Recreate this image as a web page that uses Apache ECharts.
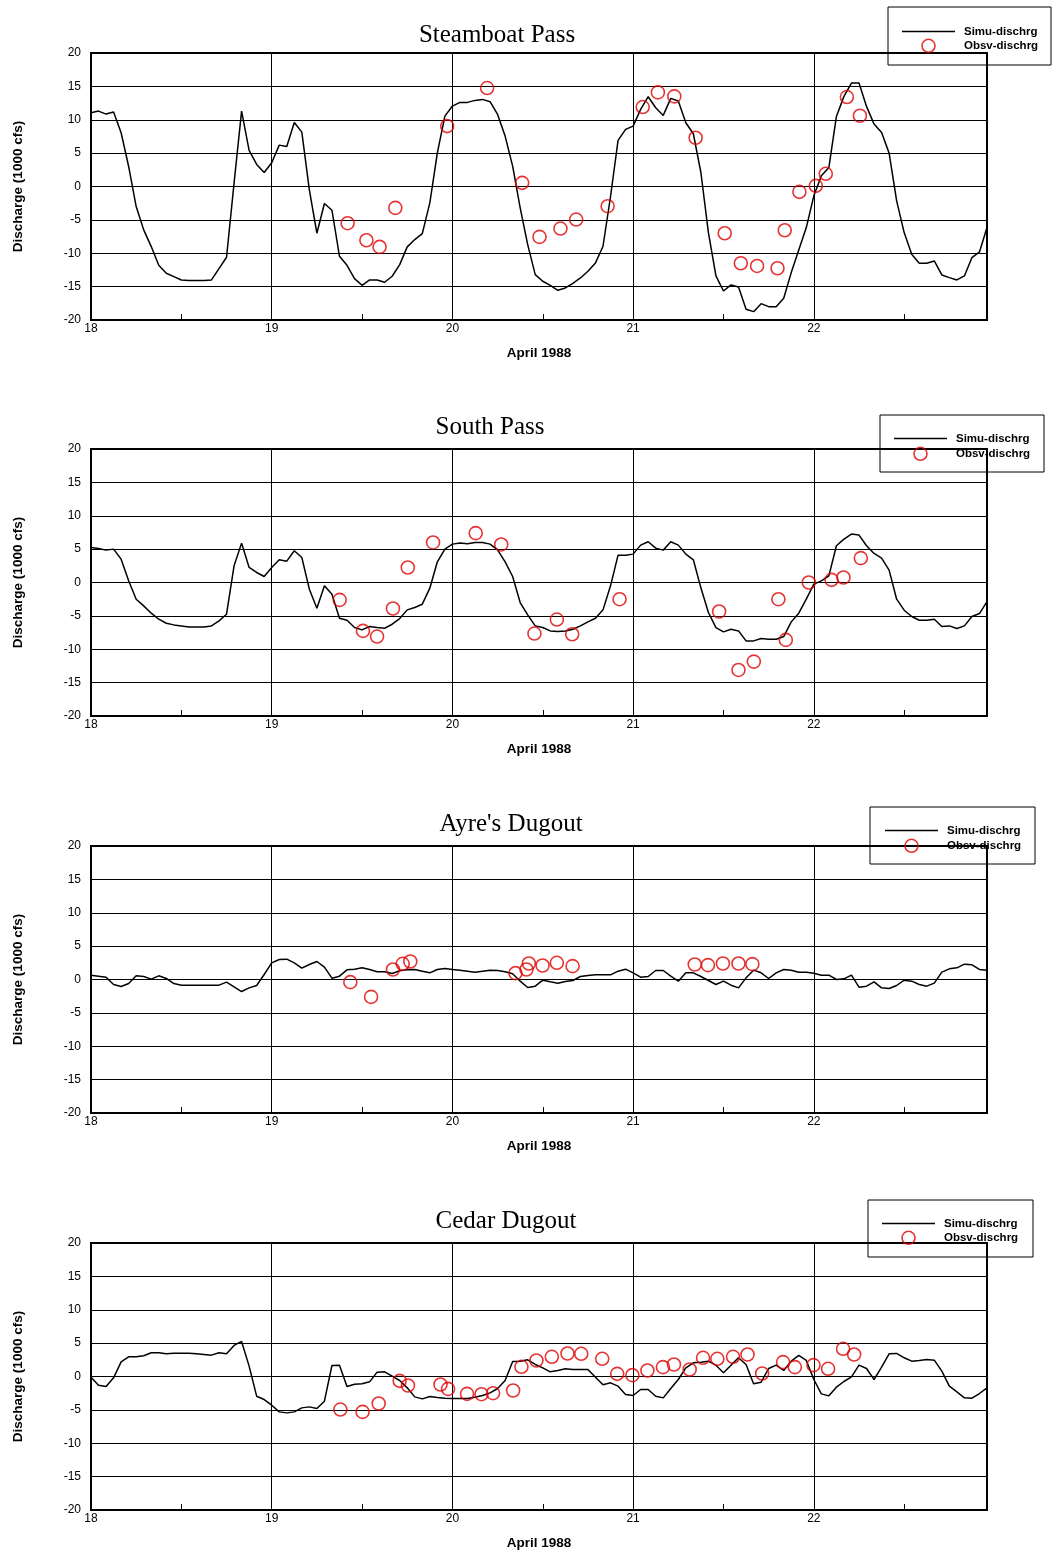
<!DOCTYPE html>
<html>
<head>
<meta charset="utf-8">
<script src="https://cdn.jsdelivr.net/npm/echarts@6/dist/echarts.min.js"></script>
<style>
html,body{margin:0;padding:0;background:#fff;}
#c{width:1052px;height:1553px;}
</style>
</head>
<body>
<div id="c"></div>
<script>
// ---- DATA ----
const startDay = 18;          // April 18, hour 0
const hoursPerDay = 24;
const titles = ["Steamboat Pass", "South Pass", "Ayre's Dugout", "Cedar Dugout"];
const simuName = 'Simu-dischrg';
const obsvName = 'Obsv-dischrg';

// Simulated discharge (1000 cfs), hourly from 18.0
const simu1 = [11.05, 11.3, 10.85, 11.15, 8.05, 3, -3, -6.5, -9, -11.8,
  -13, -13.5, -14, -14.1, -14.1, -14.1, -14, -12.3, -10.6, 0.5,
  11.3, 5.4, 3.3, 2.1, 3.55, 6.2, 6.0, 9.6, 8.15, -0.5,
  -7.0, -2.55, -3.55, -10.45, -11.8, -13.8, -14.8, -14.0, -14.0, -14.35,
  -13.45, -11.7, -9.05, -7.95, -7.05, -2.45, 5.05, 10.55, 12.05, 12.6,
  12.6, 12.9, 13.05, 12.7, 10.8, 7.55, 3.05, -3.2, -8.7, -13.2,
  -14.2, -14.8, -15.55, -15.2, -14.5, -13.7, -12.7, -11.45, -8.95, -1.5,
  6.9, 8.55, 9.05, 11.55, 13.45, 11.8, 10.65, 13.2, 12.8, 9.55,
  7.9, 2.1, -6.9, -13.4, -15.65, -14.75, -15.05, -18.4, -18.75, -17.55,
  -18.0, -18.0, -16.75, -12.9, -9.5, -6.15, -1.4, 1.6, 2.85, 10.5,
  13.5, 15.5, 15.5, 12.0, 9.35, 8.1, 5.0, -2.15, -6.9, -10.15,
  -11.5, -11.5, -11.15, -13.25, -13.65, -14.0, -13.4, -10.65, -9.8, -6.15];
const simu2 = [5.25, 5.1, 4.85, 5.0, 3.5, 0.25, -2.5, -3.5, -4.6, -5.5,
  -6.1, -6.35, -6.5, -6.65, -6.65, -6.65, -6.5, -5.75, -4.75, 2.5,
  5.9, 2.25, 1.5, 0.9, 2.25, 3.4, 3.2, 4.75, 3.75, -1.0,
  -3.85, -0.5, -1.75, -5.35, -5.65, -6.75, -7.1, -6.6, -6.75, -6.85,
  -6.25, -5.4, -4.1, -3.75, -3.25, -0.85, 3.1, 5.0, 5.75, 5.9,
  5.8, 6.0, 6.0, 5.75, 4.9, 3.1, 0.9, -3.0, -4.85, -6.5,
  -6.75, -7.25, -7.35, -7.25, -7.0, -6.5, -5.9, -5.35, -4.1, -0.5,
  4.1, 4.1, 4.25, 5.6, 6.1, 5.15, 4.85, 6.1, 5.6, 4.25,
  3.4, -0.8, -4.5, -6.75, -7.4, -7.0, -7.25, -8.75, -8.75, -8.4,
  -8.5, -8.5, -8.1, -5.9, -4.6, -2.5, -0.25, 0.25, 1.0, 5.5,
  6.5, 7.25, 7.1, 5.5, 4.35, 3.65, 1.85, -2.5, -4.15, -5.1,
  -5.65, -5.65, -5.5, -6.6, -6.5, -6.9, -6.5, -5.1, -4.65, -2.85];
const simu3 = [0.65, 0.5, 0.35, -0.75, -1.05, -0.6, 0.55, 0.45, 0.05, 0.55,
  0.15, -0.6, -0.85, -0.85, -0.85, -0.85, -0.85, -0.85, -0.4, -1.1,
  -1.8, -1.25, -0.9, 0.75, 2.5, 3.0, 3.05, 2.5, 1.7, 2.25,
  2.7, 1.85, 0.2, 0.5, 1.45, 1.55, 1.75, 1.5, 1.15, 1.15,
  0.9, 1.3, 1.45, 1.5, 1.25, 1.0, 1.5, 1.65, 1.5, 1.4,
  1.25, 1.1, 1.25, 1.4, 1.35, 1.15, 0.85, -0.25, -1.2, -1.0,
  -0.1, -0.35, -0.55, -0.3, -0.15, 0.45, 0.6, 0.7, 0.7, 0.7,
  1.25, 1.55, 1.0, 0.35, 0.45, 1.35, 1.35, 0.5, -0.25, 1.0,
  1.0, 0.45, -0.15, -0.75, -0.25, -0.85, -1.25, 0.25, 1.4, 1.0,
  0.15, 1.0, 1.5, 1.4, 1.1, 1.1, 0.95, 0.65, 0.65, 0,
  0.1, 0.65, -1.15, -1.0, -0.35, -1.25, -1.35, -0.9, -0.1, -0.25,
  -0.75, -1.0, -0.55, 1.1, 1.6, 1.75, 2.3, 2.2, 1.5, 1.4];
const simu4 = [-0.1, -1.3, -1.5, -0.2, 2.2, 2.95, 2.95, 3.1, 3.55, 3.55,
  3.4, 3.5, 3.5, 3.5, 3.4, 3.3, 3.2, 3.55, 3.4, 4.65,
  5.25, 1.55, -2.95, -3.45, -4.3, -5.3, -5.45, -5.3, -4.7, -4.55,
  -4.8, -3.7, 1.65, 1.7, -1.5, -1.15, -1.1, -0.8, 0.65, 0.7,
  0.05, -0.6, -1.7, -3.05, -3.35, -3.0, -3.15, -3.25, -3.3, -3.3,
  -3.3, -3.1, -2.85, -2.45, -1.8, -0.6, 2.25, 2.3, 2.5, 1.8,
  1.3, 0.7, 0.9, 1.15, 1.05, 1.05, 1.05, -0.1, -1.25, -0.95,
  -1.45, -2.7, -2.85, -1.95, -1.95, -2.95, -3.2, -1.8, -0.45, 1.3,
  2.05, 2.15, 2.3, 1.7, 0.55, 1.7, 2.8, 1.8, -1.1, -0.85,
  1.2, 1.7, 0.9, 2.3, 3.15, 2.4, -0.45, -2.6, -2.9, -1.6,
  -0.75, -0.05, 1.7, 1.2, -0.45, 1.4, 3.4, 3.45, 2.8, 2.3,
  2.4, 2.55, 2.45, 0.8, -1.45, -2.3, -3.2, -3.25, -2.55, -1.7];

// Observed discharge: time (day of April) and value (1000 cfs)
const obsT1 = [19.42, 19.524, 19.597, 19.684, 19.971, 20.192, 20.386, 20.482, 20.598, 20.685, 20.859, 21.053, 21.137, 21.228, 21.346, 21.507, 21.596, 21.686, 21.799, 21.839, 21.92, 22.011, 22.066, 22.183, 22.255];
const obsV1 = [-5.5, -8.05, -9.05, -3.2, 9.05, 14.75, 0.55, -7.55, -6.3, -4.95, -2.95, 11.9, 14.1, 13.5, 7.3, -7.0, -11.5, -11.9, -12.25, -6.55, -0.8, 0.1, 1.9, 13.4, 10.6];
const obsT2 = [19.376, 19.505, 19.583, 19.671, 19.753, 19.893, 20.129, 20.27, 20.454, 20.578, 20.663, 20.925, 21.476, 21.583, 21.668, 21.804, 21.845, 21.972, 22.098, 22.164, 22.26];
const obsV2 = [-2.6, -7.25, -8.1, -3.9, 2.25, 6.0, 7.4, 5.7, -7.65, -5.55, -7.75, -2.5, -4.35, -13.1, -11.85, -2.5, -8.6, 0, 0.4, 0.75, 3.65];
const obsT3 = [19.435, 19.55, 19.671, 19.725, 19.767, 20.349, 20.41, 20.423, 20.499, 20.578, 20.665, 21.341, 21.414, 21.497, 21.583, 21.66];
const obsV3 = [-0.4, -2.6, 1.5, 2.35, 2.7, 0.95, 1.5, 2.4, 2.1, 2.5, 2.0, 2.25, 2.15, 2.4, 2.4, 2.3];
const obsT4 = [19.38, 19.503, 19.592, 19.708, 19.754, 19.934, 19.976, 20.081, 20.161, 20.225, 20.336, 20.382, 20.465, 20.55, 20.637, 20.713, 20.829, 20.912, 20.996, 21.079, 21.165, 21.226, 21.313, 21.387, 21.466, 21.553, 21.633, 21.714, 21.83, 21.895, 21.998, 22.079, 22.162, 22.223];
const obsV4 = [-4.95, -5.3, -4.05, -0.65, -1.35, -1.2, -1.85, -2.6, -2.65, -2.5, -2.1, 1.45, 2.4, 2.95, 3.45, 3.4, 2.65, 0.4, 0.2, 0.9, 1.4, 1.8, 1.05, 2.8, 2.65, 2.95, 3.3, 0.45, 2.15, 1.4, 1.7, 1.15, 4.15, 3.3];

const simuAll = [simu1, simu2, simu3, simu4];
const obsTAll = [obsT1, obsT2, obsT3, obsT4];
const obsVAll = [obsV1, obsV2, obsV3, obsV4];

// ---- LAYOUT (positions / sizes) ----
const panels = [
  {top: 53,   titleX: 497, titleY: 36,   box: [888, 7, 163, 58],   leg: [902, 25.5, 1]},
  {top: 449,  titleX: 490, titleY: 428,  box: [880, 415, 164, 57], leg: [894, 432.5, 2]},
  {top: 846,  titleX: 511, titleY: 825,  box: [870, 807, 165, 57], leg: [885, 824.5, 2]},
  {top: 1243, titleX: 506, titleY: 1222, box: [868, 1200, 165, 57], leg: [882, 1217.5, 1]}
];
const gridLeft = 91, gridWidth = 896, gridHeight = 267;
const xMax = startDay + (simu1.length - 1) / hoursPerDay;
const sans = "'Liberation Sans', Arial, Helvetica, sans-serif";
const serif = "'Liberation Serif', 'Times New Roman', serif";
const red = '#e00000';
const lineIcon = 'path://M0,0L53,0L53,1.6L0,1.6Z';

const option = {
  animation: false,
  backgroundColor: '#fff',
  title: [], grid: [], xAxis: [], yAxis: [], series: [], legend: [], graphic: []
};

panels.forEach((p, i) => {
  option.title.push({
    text: titles[i], left: p.titleX, top: p.titleY - 13, textAlign: 'center', padding: 0,
    textStyle: {fontFamily: serif, fontWeight: 'normal', fontSize: 25, color: '#000'}
  });
  option.grid.push({
    left: gridLeft, top: p.top, width: gridWidth, height: gridHeight,
    show: true, borderColor: '#000', borderWidth: 2, backgroundColor: 'rgba(0,0,0,0)'
  });
  option.xAxis.push({
    type: 'value', gridIndex: i, min: startDay, max: xMax, interval: 0.5,
    axisLine: {show: true, onZero: false, lineStyle: {color: '#000', width: 2}},
    axisTick: {show: true, inside: true, length: 6, lineStyle: {color: '#000', width: 1}},
    axisLabel: {
      formatter: v => (Math.abs(v - Math.round(v)) < 1e-6 ? String(Math.round(v)) : ''),
      margin: 3, fontSize: 12, color: '#000', fontFamily: sans
    },
    splitLine: {show: true, lineStyle: {color: ['#000', 'rgba(0,0,0,0)'], width: 1}},
    name: 'April 1988', nameLocation: 'middle', nameGap: 26,
    nameTextStyle: {fontFamily: sans, fontWeight: 'bold', fontSize: 13.5, color: '#000'}
  });
  option.yAxis.push({
    type: 'value', gridIndex: i, min: -20, max: 20, interval: 5,
    axisLine: {show: true, onZero: false, lineStyle: {color: '#000', width: 2}},
    axisTick: {show: true, inside: true, length: 8, lineStyle: {color: '#000', width: 1}},
    axisLabel: {margin: 10, fontSize: 12, color: '#000', fontFamily: sans},
    splitLine: {show: true, lineStyle: {color: '#000', width: 1}},
    name: 'Discharge (1000 cfs)', nameLocation: 'middle', nameGap: 66,
    nameTextStyle: {fontFamily: sans, fontWeight: 'bold', fontSize: 13.5, color: '#000'}
  });
  option.series.push({
    name: simuName, type: 'line', xAxisIndex: i, yAxisIndex: i,
    symbol: 'none', showSymbol: false,
    lineStyle: {color: '#000', width: 1.5}, itemStyle: {color: '#000'},
    data: simuAll[i].map((v, h) => [startDay + h / hoursPerDay, v]),
    z: 3
  });
  option.series.push({
    name: obsvName, type: 'scatter', xAxisIndex: i, yAxisIndex: i,
    symbol: 'circle', symbolSize: 13,
    itemStyle: {color: 'rgba(0,0,0,0)', borderColor: red, borderWidth: 1.6},
    data: obsTAll[i].map((t, k) => [t, obsVAll[i][k]]),
    z: 4
  });
  option.legend.push({
    left: p.leg[0], top: p.leg[1], orient: 'vertical', padding: 0,
    itemWidth: 53, itemHeight: 13, itemGap: p.leg[2], selectedMode: false,
    textStyle: {fontFamily: sans, fontWeight: 'bold', fontSize: 11.5, color: '#000', padding: [0, 0, 0, 4]},
    data: [
      {name: simuName, icon: lineIcon, itemStyle: {color: '#000', borderWidth: 0}},
      {name: obsvName, icon: 'circle', itemStyle: {color: 'rgba(0,0,0,0)', borderColor: red, borderWidth: 1.6}}
    ]
  });
  option.graphic.push({
    type: 'rect', z: 100,
    shape: {x: p.box[0], y: p.box[1], width: p.box[2], height: p.box[3]},
    style: {fill: 'none', stroke: '#000', lineWidth: 1}
  });
});

const chart = echarts.init(document.getElementById('c'), null, {renderer: 'canvas'});
chart.setOption(option);
</script>
</body>
</html>
